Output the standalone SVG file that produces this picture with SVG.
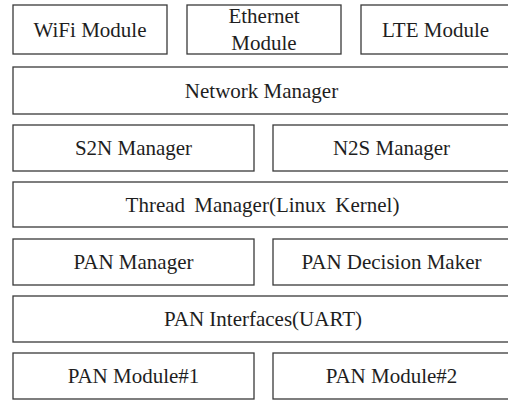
<svg xmlns="http://www.w3.org/2000/svg" width="508" height="400" viewBox="0 0 508 400">
<style>
rect{fill:#fff;stroke:#3a3a3a;stroke-width:1.3}
text{font-family:'Liberation Serif','Tinos','Noto Serif','DejaVu Serif',serif;font-size:21px;fill:#1e1e1e;text-anchor:middle}
</style>
<rect x="0" y="0" width="508" height="400" style="stroke:none"/>
<g id="wifi"><rect x="13" y="5" width="154" height="49"/><text x="90" y="36.5">WiFi Module</text></g>
<g id="ethernet"><rect x="187" y="5" width="154" height="49"/><text x="264" y="23">Ethernet</text><text x="264" y="49.5">Module</text></g>
<g id="lte"><rect x="361" y="5" width="152" height="49"/><text x="435.5" y="36.5">LTE Module</text></g>
<g id="network-manager"><rect x="13" y="67" width="500" height="47"/><text x="261.5" y="97.5">Network Manager</text></g>
<g id="s2n"><rect x="13" y="125" width="241" height="46"/><text x="133.5" y="155">S2N Manager</text></g>
<g id="n2s"><rect x="273" y="125" width="240" height="46"/><text x="391.5" y="155">N2S Manager</text></g>
<g id="thread-manager"><rect x="13" y="182" width="500" height="45"/><text x="262.5" y="211.5" word-spacing="4">Thread Manager(Linux Kernel)</text></g>
<g id="pan-manager"><rect x="13" y="239" width="241" height="46"/><text x="133.5" y="269">PAN Manager</text></g>
<g id="pan-decision"><rect x="273" y="239" width="240" height="46"/><text x="391.5" y="269">PAN Decision Maker</text></g>
<g id="pan-interfaces"><rect x="13" y="296" width="500" height="46"/><text x="263" y="326">PAN Interfaces(UART)</text></g>
<g id="pan-module-1"><rect x="13" y="353" width="241" height="46"/><text x="133.5" y="383">PAN Module#1</text></g>
<g id="pan-module-2"><rect x="273" y="353" width="240" height="46"/><text x="391.5" y="383">PAN Module#2</text></g>
<g id="connectors"></g>
</svg>
